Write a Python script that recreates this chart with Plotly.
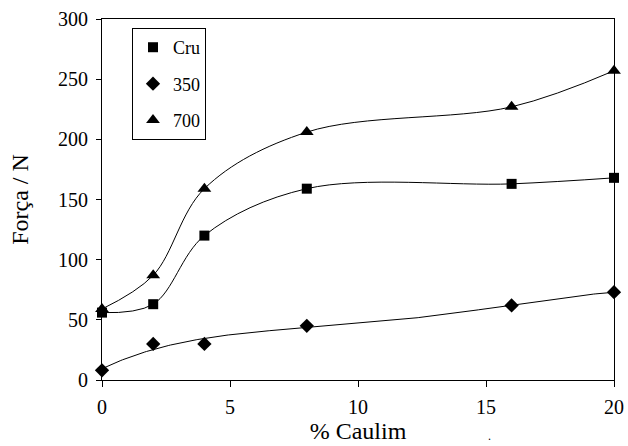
import numpy as np
import plotly.graph_objects as go

caulim = [0, 2, 4, 8, 16, 20]
cru = [56, 63, 120, 159, 163, 168]
s350 = [8, 30, 30, 45, 62, 73]
s700 = [59, 87, 159, 206, 227, 257]

yticks = [0, 50, 100, 150, 200, 250, 300]
xticks = [0, 5, 10, 15, 20]

FONT = "Liberation Serif"
fig = go.Figure()

# smooth curves
fig.add_trace(go.Scatter(x=caulim, y=cru, mode="lines", line=dict(color="black", width=1, shape="spline"),
                         showlegend=False, hoverinfo="skip"))
xs = np.linspace(0, 20, 300)
coef = np.polyfit(caulim, s350, 4)
fig.add_trace(go.Scatter(x=xs, y=np.polyval(coef, xs), mode="lines", line=dict(color="black", width=1),
                         showlegend=False, hoverinfo="skip"))
fig.add_trace(go.Scatter(x=caulim, y=s700, mode="lines", line=dict(color="black", width=1, shape="spline"),
                         showlegend=False, hoverinfo="skip"))

for name, ys, sym, sz in [("Cru", cru, "square", 10), ("350", s350, "diamond", 11), ("700", s700, "triangle-up", 12)]:
    fig.add_trace(go.Scatter(x=caulim, y=ys, mode="markers", name=name, legendgroup=name,
                             marker=dict(symbol=sym, size=sz, color="black"), cliponaxis=False))

fig.update_layout(
    width=628, height=446,
    margin=dict(l=102, r=14, t=19, b=66),
    paper_bgcolor="white", plot_bgcolor="white",
    font=dict(family=FONT, color="black", size=20),
    legend=dict(x=0.0586, y=0.975, xanchor="left", yanchor="top",
                bordercolor="black", borderwidth=1, font=dict(size=18),
                tracegroupgap=10, itemwidth=30),
    xaxis=dict(range=[0, 20], tickvals=xticks, showline=True, linecolor="black",
               mirror=True, ticks="outside", ticklen=6, tickcolor="black", showgrid=False,
               zeroline=False, ticklabelstandoff=3, automargin=False,
               title=dict(text="% Caulim", standoff=4)),
    yaxis=dict(range=[0, 300], tickvals=yticks, showline=True,
               linecolor="black", mirror=True, ticks="outside", ticklen=5, tickcolor="black",
               showgrid=False, zeroline=False, ticklabelstandoff=4, automargin=False,
               title=dict(text="Força / N", standoff=22)),
    yaxis2=dict(range=[0, 300], tickvals=yticks, overlaying="y", side="left", ticks="inside",
                ticklen=4, tickcolor="black", showticklabels=False, showgrid=False,
                zeroline=False, showline=False, automargin=False),
    showlegend=True,
)
fig.add_annotation(x=(493 - 102) / 512, y=-(445 - 380) / 361, xref="paper", yref="paper",
                   text=".", showarrow=False, font=dict(size=12), yanchor="bottom")
fig.write_html("out.html")
